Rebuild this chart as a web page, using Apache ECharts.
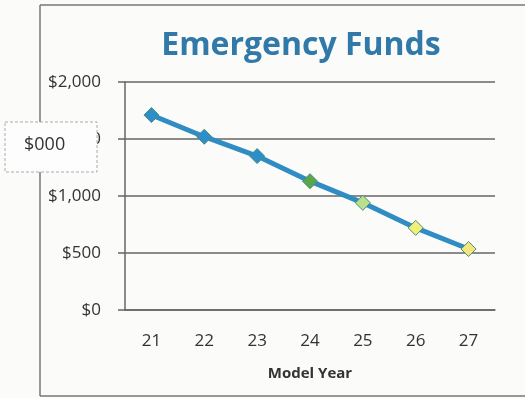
<!DOCTYPE html>
<html>
<head>
<meta charset="utf-8">
<script src="https://cdn.jsdelivr.net/npm/echarts@6/dist/echarts.min.js"></script>
<style>
  html, body { margin: 0; padding: 0; background: #fbfbfa; }
  #chart { width: 525px; height: 398px; }
</style>
</head>
<body>
<div id="chart"></div>
<script>
// data
var years = ['21', '22', '23', '24', '25', '26', '27'];
var funds = [1710, 1520, 1350, 1130, 940, 720, 535];
var yTicks = [0, 500, 1000, 1500, 2000];

// marker fill per point (blue -> green -> yellow)
var markerColors = ['#2b8fcb', '#2b8fcb', '#2b8fcb', '#5aa64c', '#b9e08c', '#eef07a', '#f2e67c'];

var chart = echarts.init(document.getElementById('chart'));

function money(v) {
  return '$' + v.toLocaleString('en-US');
}

chart.setOption({
  backgroundColor: '#fbfbfa',
  textStyle: { fontFamily: 'Open Sans' },
  grid: { left: 125, right: 30, top: 82, bottom: 88 },
  xAxis: {
    type: 'category',
    data: years,
    boundaryGap: true,
    name: 'Model Year',
    nameLocation: 'middle',
    nameGap: 56,
    nameTextStyle: { fontSize: 15, fontWeight: 'bold', color: '#333' },
    axisLine: { lineStyle: { color: '#666', width: 1.5 } },
    axisTick: { show: false },
    axisLabel: { fontSize: 17, color: '#333', margin: 23 }
  },
  yAxis: {
    type: 'value',
    min: yTicks[0],
    max: yTicks[yTicks.length - 1],
    interval: 500,
    axisLine: { show: true, lineStyle: { color: '#666', width: 1.5 } },
    axisTick: { show: true, length: 7, lineStyle: { color: '#666', width: 1.5 } },
    splitLine: { lineStyle: { color: '#666', width: 1.5 } },
    axisLabel: { fontSize: 17, color: '#333', margin: 24, formatter: money }
  },
  series: [{
    type: 'line',
    data: funds.map(function (v, i) {
      return { value: v, itemStyle: { color: markerColors[i], borderColor: '#4f8a78', borderWidth: 1 } };
    }),
    symbol: 'diamond',
    symbolSize: 15,
    lineStyle: { color: '#2f8dc4', width: 5 },
    z: 3
  }],
  graphic: [
    // title, centred over the plot rather than the page
    {
      type: 'text',
      x: 301,
      y: 30,
      style: {
        text: 'Emergency Funds', fontSize: 32, fontWeight: 'bold', fill: '#3179a8',
        fontFamily: 'Open Sans', textAlign: 'center'
      }
    },
    // outer frame of the scanned chart
    { type: 'line', shape: { x1: 40, y1: 5, x2: 525, y2: 5 }, style: { stroke: '#777', lineWidth: 1.5 } },
    { type: 'line', shape: { x1: 40, y1: 5, x2: 40, y2: 396 }, style: { stroke: '#777', lineWidth: 1.5 } },
    { type: 'line', shape: { x1: 40, y1: 396, x2: 525, y2: 396 }, style: { stroke: '#777', lineWidth: 1.5 } },
    // pasted-over label box
    {
      type: 'rect',
      shape: { x: 5, y: 122, width: 92, height: 50 },
      style: { fill: '#fdfdfd', stroke: '#aaa', lineWidth: 1, lineDash: [3, 2] },
      z: 10
    },
    {
      type: 'text',
      left: 24,
      top: 136,
      style: { text: '$000', fontSize: 18, fill: '#333', fontFamily: 'Open Sans' },
      z: 11
    }
  ]
});
</script>
</body>
</html>
